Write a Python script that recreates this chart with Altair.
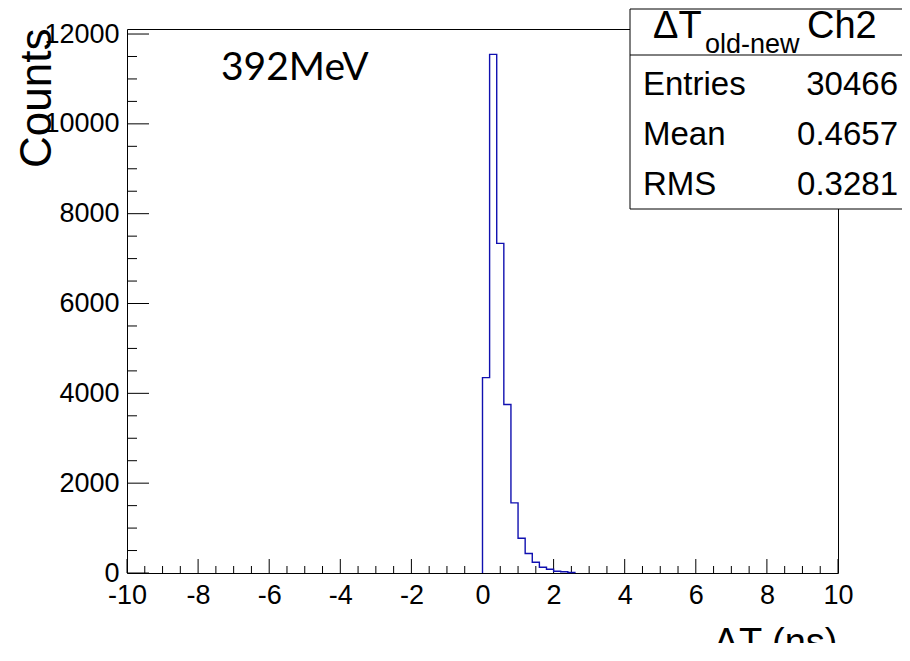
import altair as alt
import pandas as pd

# ---- data ----
bin_low = [0.0, 0.2, 0.4, 0.6, 0.8, 1.0, 1.2, 1.4, 1.6, 1.8, 2.0, 2.2, 2.4]
counts = [4351, 11547, 7340, 3750, 1562, 775, 434, 240, 129, 85, 40, 27, 10]
bin_width = 0.2
x_range = [-10, 10]
y_max = 12112

x_major = [-10, -8, -6, -4, -2, 0, 2, 4, 6, 8, 10]
x_minor = [v / 2 for v in range(-20, 21) if v % 4 != 0]
y_major = [0, 2000, 4000, 6000, 8000, 10000, 12000]
y_minor = [v for v in range(500, 12001, 500) if v % 2000 != 0]

stats_title_main = "ΔT"
stats_title_sub = "old-new"
stats_title_tail = "Ch2"
stats_labels = ["Entries", "Mean", "RMS"]
stats_values = ["30466", "0.4657", "0.3281"]
annotation = "392MeV"
x_title = "ΔT (ns)"
y_title = "Counts"

# ---- geometry ----
W, H = 711, 544
FONT = "Liberation Sans"
LINE = "#1010b0"

# step outline of the histogram
xs = [bin_low[0]] + bin_low + [bin_low[-1] + bin_width]
ys = [0] + counts + [0]
hist = pd.DataFrame({"x": xs, "y": ys, "o": list(range(len(xs)))})

xs_scale = alt.Scale(domain=x_range, nice=False, zero=False)
ys_scale = alt.Scale(domain=[0, y_max], nice=False)

line = alt.Chart(hist).mark_line(
    interpolate="step-after", color=LINE, strokeWidth=1.4
).encode(
    x=alt.X("x:Q", scale=xs_scale,
            axis=alt.Axis(values=x_major, labelExpr="'' + datum.value",
                          title=x_title, titleX=710, titleY=81,
                          titleAlign="right", titleBaseline="alphabetic",
                          titleFontSize=38, labelPadding=9,
                          labelFlush=False, labelOverlap=False)),
    y=alt.Y("y:Q", scale=ys_scale,
            axis=alt.Axis(values=y_major, labelExpr="'' + datum.value",
                          title=y_title, titleX=-77, titleY=-1,
                          titleAngle=270, titleAlign="right",
                          titleBaseline="alphabetic", titleFontSize=44,
                          labelPadding=8, labelFlush=False,
                          labelOverlap=False)),
    order="o:Q",
)

def xticks(vals, length):
    return alt.Chart(pd.DataFrame({"t": vals})).mark_rule(
        color="black", strokeWidth=1
    ).encode(x=alt.X("t:Q", scale=xs_scale), y=alt.value(H), y2=alt.value(H - length))

def yticks(vals, length):
    return alt.Chart(pd.DataFrame({"t": vals})).mark_rule(
        color="black", strokeWidth=1
    ).encode(y=alt.Y("t:Q", scale=ys_scale), x=alt.value(0), x2=alt.value(length))

one = pd.DataFrame({"a": [0]})

box = alt.Chart(one).mark_rect(fill="white", stroke="black", strokeWidth=1).encode(
    x=alt.value(503), x2=alt.value(800), y=alt.value(-20), y2=alt.value(180)
)
divider = alt.Chart(one).mark_rule(color="black", strokeWidth=1).encode(
    x=alt.value(503), x2=alt.value(800), y=alt.value(26)
)

def txt(s, x, y, size, align="left", font=FONT):
    return alt.Chart(one).mark_text(
        text=s, align=align, baseline="alphabetic", font=font,
        fontSize=size, color="black"
    ).encode(x=alt.value(x), y=alt.value(y))

texts = [
    txt(stats_title_main, 526, 9, 38),
    txt(stats_title_sub, 578, 24, 27),
    txt(stats_title_tail, 680, 9, 38),
    txt(annotation, 94, 51, 39, font="Lato"),
]
row_y = [66, 116, 166]
for lab, val, yy in zip(stats_labels, stats_values, row_y):
    texts.append(txt(lab, 516, yy, 33))
    texts.append(txt(val, 771, yy, 33, align="right"))

chart = alt.layer(
    xticks(x_major, 14), xticks(x_minor, 7),
    yticks(y_major, 22), yticks(y_minor, 10),
    line, box, divider, *texts
).properties(
    width=W, height=H,
    padding={"left": 119, "top": 21, "right": 64, "bottom": 70},
    autosize=alt.AutoSizeParams(type="none"),
    background="white",
).configure_view(
    stroke="black", strokeWidth=1
).configure_axis(
    grid=False, ticks=False, domain=False,
    labelFont=FONT, labelFontSize=27, labelColor="black",
    titleFont=FONT, titleFontWeight="normal", titleColor="black",
)

chart.save("out.html", embed_options={"renderer": "svg", "actions": False})
